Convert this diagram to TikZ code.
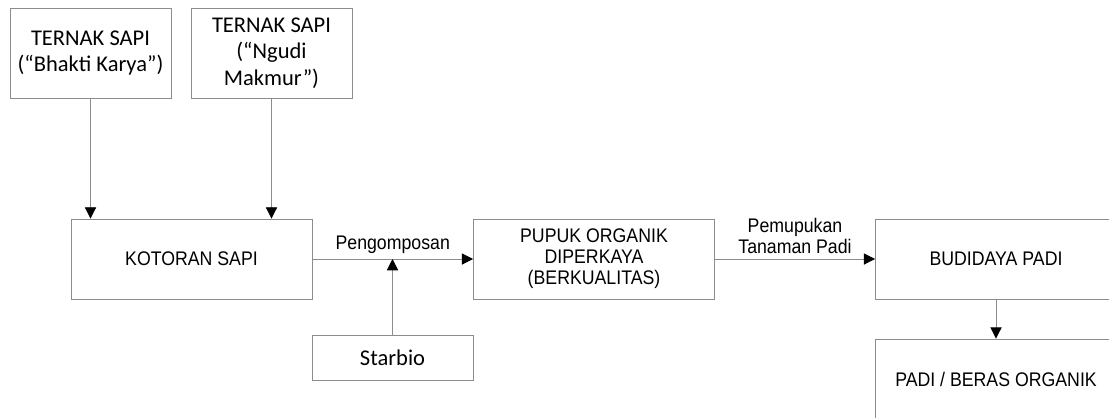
\documentclass[tikz,border=0pt]{standalone}
\usepackage{fontspec}
\usepackage{tikz}
\usetikzlibrary{arrows.meta,positioning}
\newfontfamily\calib{Carlito}
\newfontfamily\arialn{Liberation Sans}[FakeStretch=0.9]
\definecolor{linegray}{HTML}{8C8C8C}

\begin{document}
\begin{tikzpicture}[x=0.025cm, y=-0.025cm, semithick,
  arr/.style={draw=linegray, -{Triangle[length=8pt, width=8pt, color=black]}}]
\tikzstyle{box}=[draw=linegray, rectangle, align=center, inner sep=2pt]
\tikzstyle{farm}=[box, font=\calib\fontsize{16}{19}\selectfont, minimum width=4.025cm, minimum height=2.25cm]
\tikzstyle{proc}=[box, font=\arialn\fontsize{14}{15}\selectfont, minimum width=6.025cm, minimum height=2cm]
\useasboundingbox (0,0) rectangle (1109,417);
\clip (0,0) rectangle (1109,417);
\node[farm] (bhakti) at (90.5,53) {TERNAK SAPI\\(“Bhakti Karya”)};
\node[farm] (ngudi) at (271.5,53) {TERNAK SAPI\\(“Ngudi\\Makmur”)};
\node[proc] (kotoran) at (191.5,259) {KOTORAN SAPI};
\node[proc] (pupuk) at (594,259) {PUPUK ORGANIK\\DIPERKAYA\\(BERKUALITAS)};
\node[proc] (budidaya) at (996,259) {BUDIDAYA PADI};
\node[proc] (beras) at (996,379) {PADI / BERAS ORGANIK};
\node[farm, minimum height=1.125cm] (starbio) at (392.5,357.5) {Starbio};
\coordinate (mix) at (starbio.north |- kotoran.east);
\tikzstyle{every node}=[font=\arialn\fontsize{14}{15}\selectfont, align=center]
\path[arr] (bhakti.south) -- (bhakti.south |- kotoran.north);
\path[arr] (ngudi.south) -- (ngudi.south |- kotoran.north);
\path[arr] (kotoran.east) -- node[above, pos=0.5] {Pengomposan} (pupuk.west);
\path[arr] (starbio.north) -- (mix);
\path[arr] (pupuk.east) -- node[above] {Pemupukan\\Tanaman Padi} (budidaya.west);
\path[arr] (budidaya.south) -- (beras.north);
\end{tikzpicture}
\end{document}
